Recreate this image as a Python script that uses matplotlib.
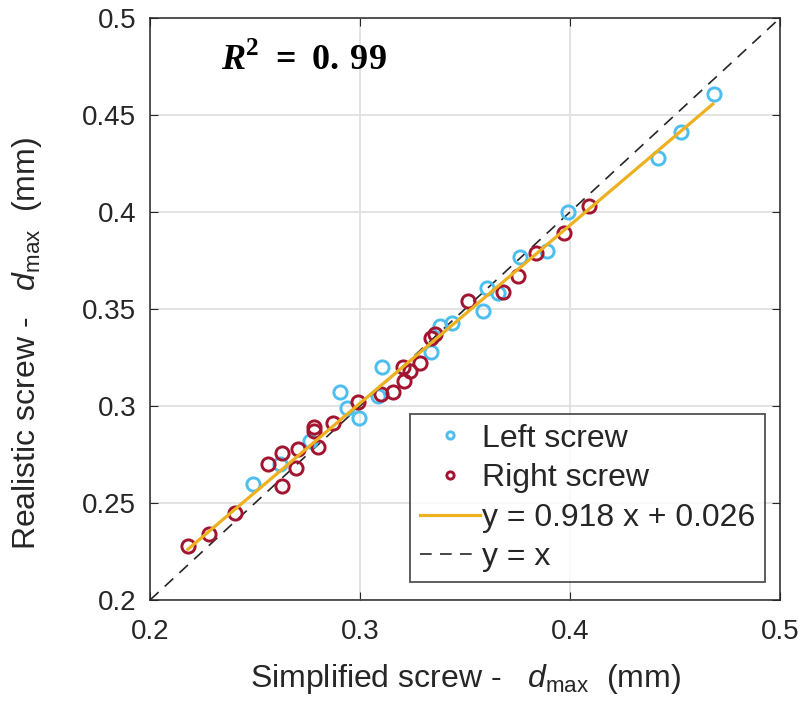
import numpy as np
import matplotlib
matplotlib.use("Agg")
import matplotlib.pyplot as plt

plt.rcParams['font.family'] = ['Liberation Sans', 'DejaVu Sans']
plt.rcParams['mathtext.fontset'] = 'custom'
plt.rcParams['mathtext.rm'] = 'Liberation Sans'
plt.rcParams['mathtext.it'] = 'Liberation Sans:italic'
plt.rcParams['mathtext.bf'] = 'Liberation Serif:bold'
plt.rcParams['mathtext.bfit'] = 'Liberation Serif:italic:bold'

# LEFT SCREW (simplified vs realistic d_max)
left_x = [0.249, 0.262, 0.276, 0.2905, 0.2938, 0.2995, 0.3086, 0.3105, 0.334,
          0.338, 0.344, 0.3586, 0.3605, 0.3657, 0.376, 0.389, 0.399, 0.4419,
          0.4529, 0.4686]
left_y = [0.260, 0.270, 0.282, 0.307, 0.299, 0.294, 0.305, 0.320, 0.328,
          0.341, 0.343, 0.349, 0.361, 0.358, 0.377, 0.380, 0.400, 0.428,
          0.441, 0.461]

# RIGHT SCREW
right_x = [0.218, 0.228, 0.2405, 0.256, 0.263, 0.263, 0.2695, 0.2705, 0.278,
           0.278, 0.280, 0.287, 0.299, 0.310, 0.3157, 0.3205, 0.321, 0.324,
           0.3286, 0.334, 0.3357, 0.3514, 0.368, 0.375, 0.384, 0.397, 0.409]
right_y = [0.228, 0.234, 0.245, 0.270, 0.276, 0.259, 0.268, 0.278, 0.289,
           0.287, 0.279, 0.291, 0.302, 0.306, 0.307, 0.320, 0.313, 0.318,
           0.322, 0.335, 0.337, 0.354, 0.359, 0.367, 0.379, 0.389, 0.403]

# LINEAR FIT
slope = 0.918
intercept = 0.026
fit_x = np.array([0.218, 0.468])

fig = plt.figure(figsize=(8.04, 7.13), dpi=100)
ax = fig.add_axes([0.1866, 0.1585, 0.7836, 0.8163])

ax.plot(left_x, left_y, 'o', mfc='none', mec='#4DBEEE', ms=9.5, mew=2.1,
        label='Left screw', zorder=3)
ax.plot(right_x, right_y, 'o', mfc='none', mec='#A2142F', ms=9.5, mew=2.1,
        label='Right screw', zorder=3)
ax.plot(fit_x, slope * fit_x + intercept, color='#EDB120', lw=2.3,
        label='y = %.3f x + %.3f' % (slope, intercept), zorder=4)
ax.plot([0.2, 0.5], [0.2, 0.5], '--', color='#262626', lw=1.2,
        dashes=(7, 5), label='y = x', zorder=2)

ax.set_xlim(0.2, 0.5)
ax.set_ylim(0.2, 0.5)
ax.set_xticks([0.2, 0.3, 0.4, 0.5])
ax.set_xticklabels(['0.2', '0.3', '0.4', '0.5'])
ax.set_yticks([0.2, 0.25, 0.3, 0.35, 0.4, 0.45, 0.5])
ax.set_yticklabels(['0.2', '0.25', '0.3', '0.35', '0.4', '0.45', '0.5'])
ax.tick_params(direction='in', labelsize=20, colors='#262626', length=6,
               top=True, right=True)
ax.tick_params(axis='x', pad=14)
ax.tick_params(axis='y', pad=10)
ax.grid(True, color='#e0e0e0', lw=1.3)
ax.set_axisbelow(True)
for s in ax.spines.values():
    s.set_color('#262626')
    s.set_linewidth(1.1)

ax.set_xlabel(r'Simplified screw -   $d_{\mathrm{max}}$  (mm)', fontsize=23,
              color='#262626', labelpad=12)
ax.set_ylabel(r'Realistic screw -   $d_{\mathrm{max}}$  (mm)', fontsize=23,
              color='#262626')
ax.yaxis.set_label_coords(-0.168, 0.44)

ax.text(0.112, 0.928, r'$\mathbfit{R}^{\mathbf{2}}\ \mathbf{=\ 0.\,99}$',
        transform=ax.transAxes, fontsize=26, ha='left', va='center')

leg = ax.legend(loc='lower right', bbox_to_anchor=(0.976, 0.031),
                fontsize=23, frameon=True, fancybox=False, edgecolor='#262626',
                markerscale=0.55, handlelength=1.9, handletextpad=0.05,
                borderaxespad=0, borderpad=0.3, labelspacing=0.3)
leg.get_frame().set_linewidth(1.3)
for t in leg.get_texts():
    t.set_color('#262626')

plt.savefig("out.png", dpi=100)
